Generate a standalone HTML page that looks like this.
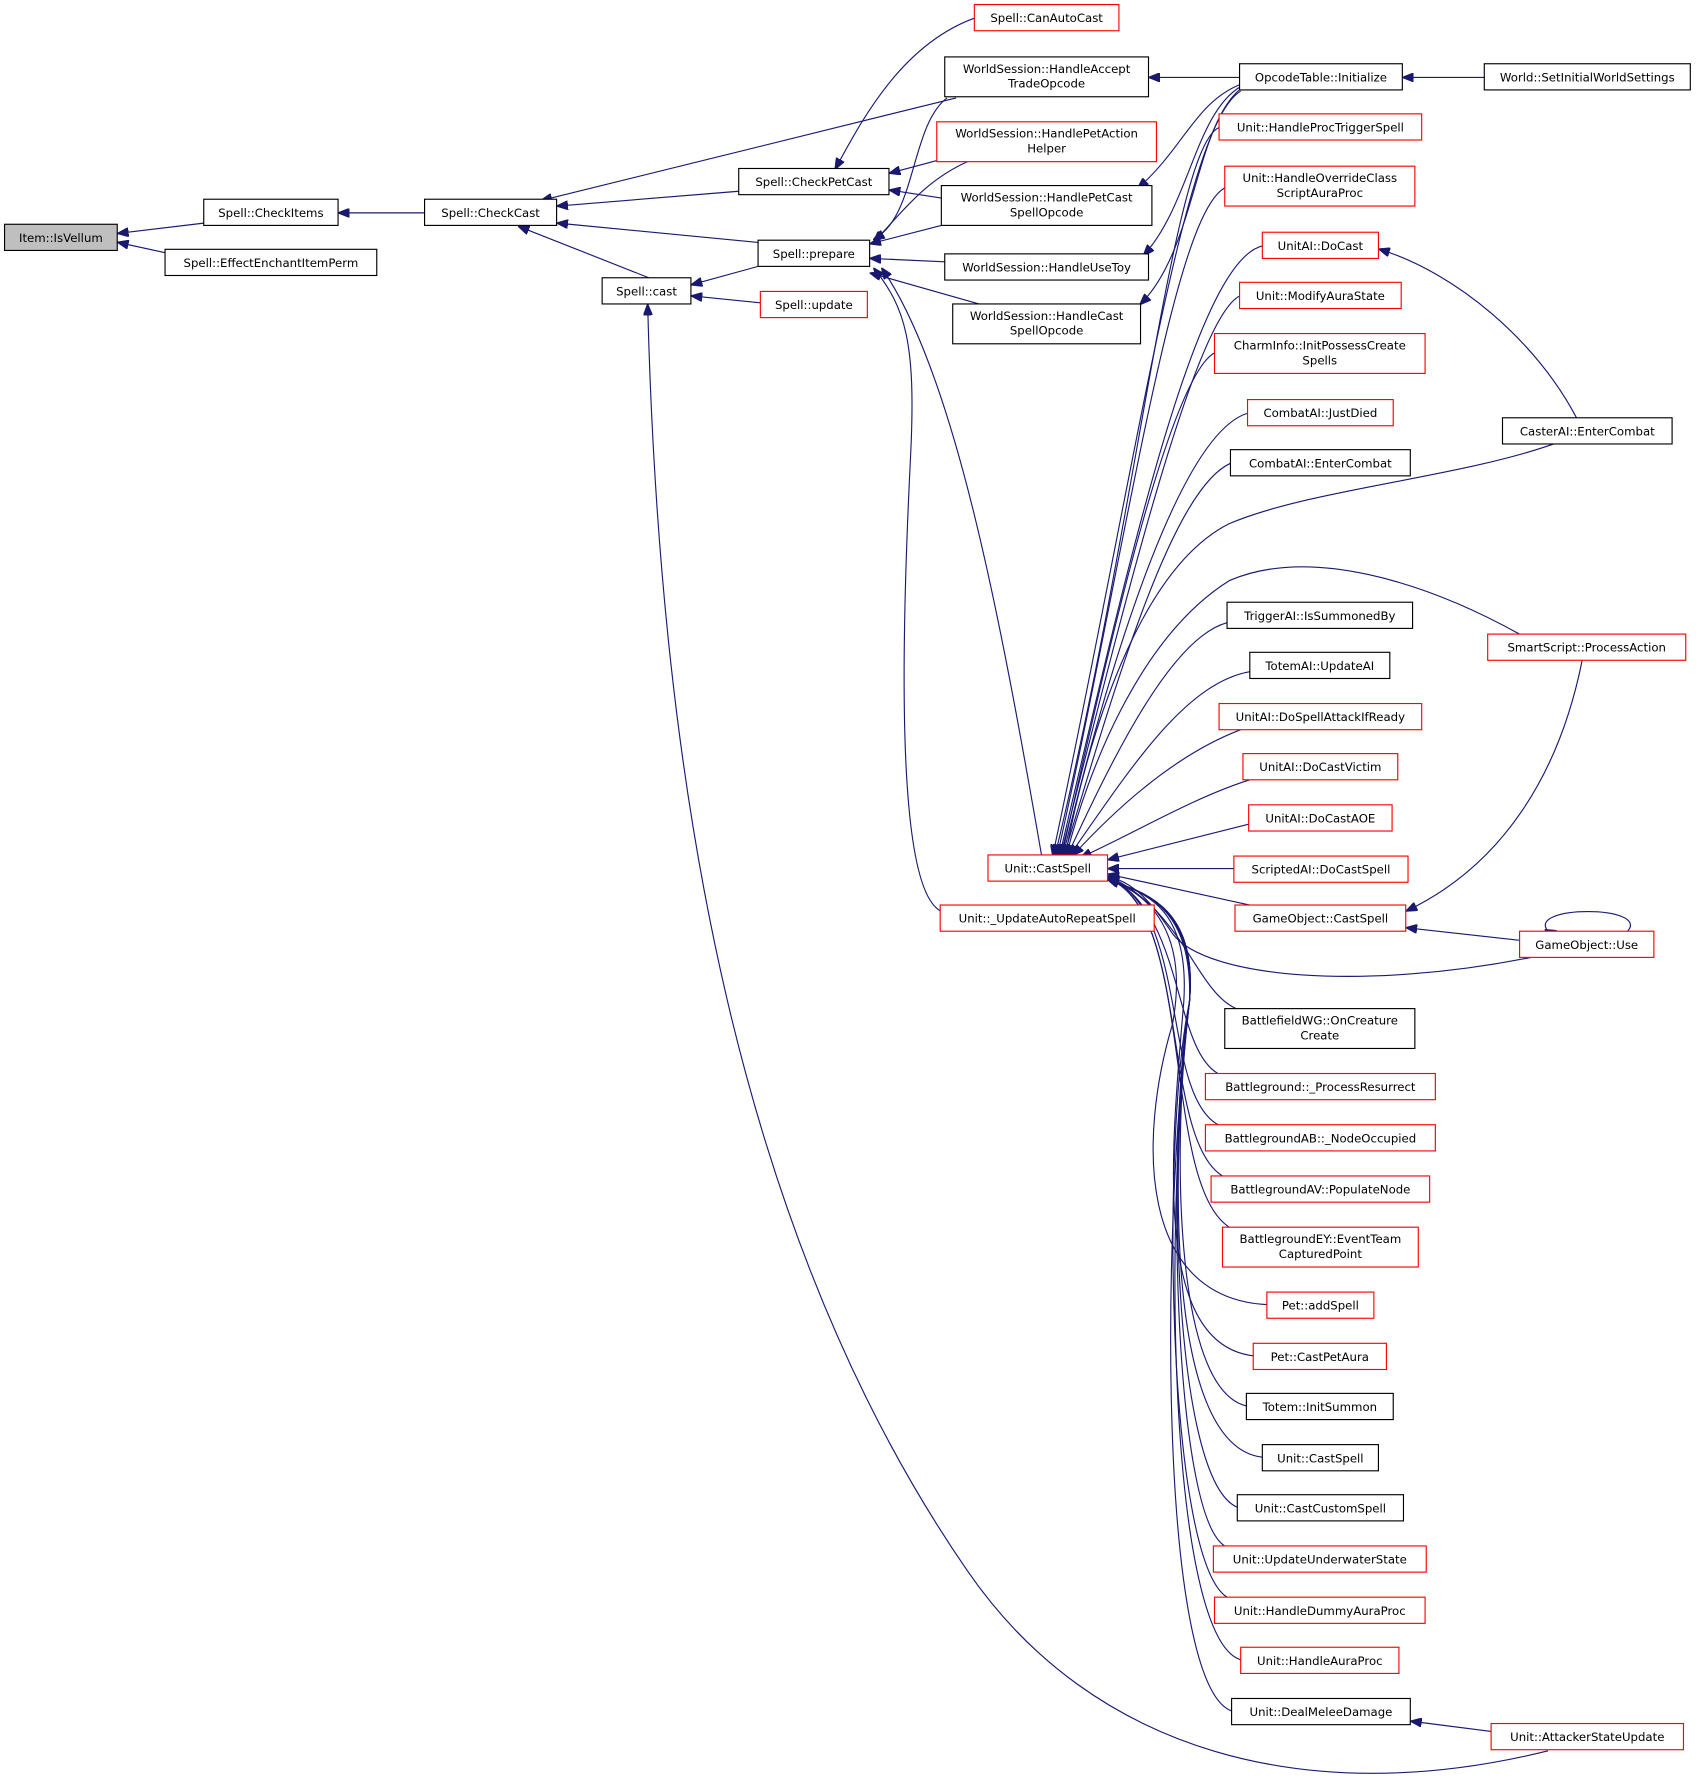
<!DOCTYPE html>
<html><head><meta charset="utf-8"><style>
html,body{margin:0;padding:0;background:#fff;}
svg{display:block;}
text{font-family:"DejaVu Sans","Liberation Sans",sans-serif;font-size:10.3px;fill:#000;text-anchor:middle;}
.b{fill:#fff;stroke:#000;stroke-width:1;}
.r{fill:#fff;stroke:#ff0000;stroke-width:1;}
.g{fill:#bfbfbf;stroke:#000;stroke-width:1;}
path{fill:none;stroke:#191970;stroke-width:1;}
</style></head><body>
<svg width="1696" height="1785" viewBox="0 0 1490 1568" preserveAspectRatio="none" xmlns="http://www.w3.org/2000/svg">
<defs><marker id="a" markerWidth="10" markerHeight="8" refX="9" refY="4" orient="auto" markerUnits="userSpaceOnUse"><polygon points="0,0 10,4 0,8" fill="#191970" stroke="#191970"/></marker></defs>
<g marker-end="url(#a)">
<path d="M179,196 L104,205"/>
<path d="M145,222 L104,213"/>
<path d="M373,187 L298,187"/>
<path d="M649,168 L490,181"/>
<path d="M666,213 L490,196"/>
<path d="M570,244 L456,199"/>
<path d="M840,86 L476,176"/>
<path d="M856,16 C790,40 755,110 734,148"/>
<path d="M823,141 L782,152"/>
<path d="M827,174 L782,167"/>
<path d="M666,234 L608,250"/>
<path d="M668,266 L608,260"/>
<path d="M1360,1538 C1150,1590 960,1540 850,1380 C650,1090 580,700 569,268"/>
<path d="M832,86 C800,110 805,190 768,210"/>
<path d="M850,142 C810,160 790,190 768,212"/>
<path d="M827,198 L765,214"/>
<path d="M830,230 L765,227"/>
<path d="M860,267 L765,240"/>
<path d="M915,751 C880,550 840,330 775,236"/>
<path d="M826,800 C790,780 790,600 800,400 C805,300 795,270 768,236"/>
<path d="M1089,68 L1010,68"/>
<path d="M1304,68 L1233,68"/>
<path d="M1090,74 C1050,90 1040,130 1000,165"/>
<path d="M1090,76 C1050,100 1045,180 1005,224"/>
<path d="M1090,78 C1050,110 1050,220 1002,267"/>
<path d="M1090,80 C1040,110 1000,400 925,751"/>
<path d="M1071,112 C1030,130 1000,450 927,751"/>
<path d="M1076,165 C1030,190 990,480 929,751"/>
<path d="M1109,216 C1050,230 990,500 931,751"/>
<path d="M1089,260 C1050,280 990,520 932,751"/>
<path d="M1067,310 C1030,330 980,540 933,751"/>
<path d="M1096,363 C1040,380 980,560 934,751"/>
<path d="M1081,407 C1030,430 980,600 935,751"/>
<path d="M1365,390 C1280,420 1150,430 1080,460 C1000,500 955,650 936,751"/>
<path d="M1335,557 C1250,510 1150,480 1080,510 C1000,560 955,680 937,751"/>
<path d="M1078,547 C1030,560 980,660 938,751"/>
<path d="M1098,590 C1040,600 990,680 940,751"/>
<path d="M1090,641 C1040,660 990,700 943,751"/>
<path d="M1098,685 C1050,700 1000,730 950,753"/>
<path d="M1097,724 L974,755"/>
<path d="M1084,763 L974,763"/>
<path d="M1098,795 L974,768"/>
<path d="M1345,841 C1200,870 1060,860 1030,820 C1010,790 995,775 974,770"/>
<path d="M1385,367 C1350,300 1280,240 1212,219"/>
<path d="M1390,580 C1370,680 1320,760 1236,800"/>
<path d="M1335,826 L1236,815"/>
<path d="M1360,818 C1340,795 1450,795 1430,818 M1360,818 L1358,817"/>
<path d="M1310,1521 L1240,1512"/>
<path d="M1086,886 C1050,870 1040,800 974,770"/>
<path d="M1070,943 C1030,920 1040,800 974,771"/>
<path d="M1070,988 C1020,960 1045,800 974,771"/>
<path d="M1074,1033 C1020,1000 1045,800 974,772"/>
<path d="M1080,1078 C1020,1040 1050,800 974,772"/>
<path d="M1113,1146 C1000,1140 1000,1000 1030,900 C1045,820 1010,785 974,773"/>
<path d="M1101,1191 C1010,1180 1030,1000 1040,880 C1045,800 1010,785 974,773"/>
<path d="M1095,1235 C1030,1220 1030,1000 1045,880 C1048,800 1010,785 974,773"/>
<path d="M1109,1280 C1020,1270 1030,1000 1045,880 C1050,800 1010,785 974,773"/>
<path d="M1087,1324 C1030,1300 1025,1000 1045,880 C1052,800 1010,785 974,773"/>
<path d="M1076,1358 C1030,1330 1025,1000 1045,880 C1052,800 1010,785 974,773"/>
<path d="M1078,1403 C1025,1370 1020,1000 1045,880 C1052,800 1010,785 974,773"/>
<path d="M1090,1458 C1030,1440 1020,1100 1045,880 C1052,800 1010,785 974,773"/>
<path d="M1082,1503 C1020,1480 1018,1100 1045,880 C1052,800 1010,785 974,773"/>
</g>
<rect class="g" x="4" y="197" width="99" height="23"/><text x="53.5" y="212.5">Item::IsVellum</text>
<rect class="b" x="179" y="175" width="118" height="23"/><text x="238" y="190.5">Spell::CheckItems</text>
<rect class="b" x="145" y="219" width="186" height="23"/><text x="238" y="234.5">Spell::EffectEnchantItemPerm</text>
<rect class="b" x="373" y="175" width="116" height="23"/><text x="431" y="190.5">Spell::CheckCast</text>
<rect class="b" x="649" y="148" width="132" height="23"/><text x="715" y="163.5">Spell::CheckPetCast</text>
<rect class="b" x="666" y="211" width="98" height="23"/><text x="715" y="226.5">Spell::prepare</text>
<rect class="b" x="529" y="244" width="78" height="23"/><text x="568" y="259.5">Spell::cast</text>
<rect class="r" x="668" y="256" width="94" height="23"/><text x="715" y="271.5">Spell::update</text>
<rect class="r" x="856" y="4" width="127" height="23"/><text x="919.5" y="19.5">Spell::CanAutoCast</text>
<rect class="b" x="830" y="50" width="179" height="35"/><text x="919.5" y="64">WorldSession::HandleAccept</text><text x="919.5" y="77">TradeOpcode</text>
<rect class="r" x="823" y="107" width="193" height="35"/><text x="919.5" y="121">WorldSession::HandlePetAction</text><text x="919.5" y="134">Helper</text>
<rect class="b" x="827" y="163" width="185" height="35"/><text x="919.5" y="177">WorldSession::HandlePetCast</text><text x="919.5" y="190">SpellOpcode</text>
<rect class="b" x="830" y="223" width="179" height="23"/><text x="919.5" y="238.5">WorldSession::HandleUseToy</text>
<rect class="b" x="837" y="267" width="165" height="35"/><text x="919.5" y="281">WorldSession::HandleCast</text><text x="919.5" y="294">SpellOpcode</text>
<rect class="r" x="868" y="751" width="105" height="23"/><text x="920.5" y="766.5">Unit::CastSpell</text>
<rect class="r" x="826" y="795" width="188" height="23"/><text x="920" y="810.5">Unit::_UpdateAutoRepeatSpell</text>
<rect class="b" x="1089" y="56" width="143" height="23"/><text x="1160.5" y="71.5">OpcodeTable::Initialize</text>
<rect class="b" x="1304" y="56" width="181" height="23"/><text x="1394.5" y="71.5">World::SetInitialWorldSettings</text>
<rect class="r" x="1071" y="100" width="178" height="23"/><text x="1160" y="115.5">Unit::HandleProcTriggerSpell</text>
<rect class="r" x="1076" y="146" width="167" height="35"/><text x="1159.5" y="160">Unit::HandleOverrideClass</text><text x="1159.5" y="173">ScriptAuraProc</text>
<rect class="r" x="1109" y="204" width="102" height="23"/><text x="1160" y="219.5">UnitAI::DoCast</text>
<rect class="r" x="1089" y="248" width="142" height="23"/><text x="1160" y="263.5">Unit::ModifyAuraState</text>
<rect class="r" x="1067" y="293" width="185" height="35"/><text x="1159.5" y="307">CharmInfo::InitPossessCreate</text><text x="1159.5" y="320">Spells</text>
<rect class="r" x="1096" y="351" width="128" height="23"/><text x="1160" y="366.5">CombatAI::JustDied</text>
<rect class="b" x="1081" y="395" width="158" height="23"/><text x="1160" y="410.5">CombatAI::EnterCombat</text>
<rect class="b" x="1078" y="529" width="163" height="23"/><text x="1159.5" y="544.5">TriggerAI::IsSummonedBy</text>
<rect class="b" x="1098" y="573" width="123" height="23"/><text x="1159.5" y="588.5">TotemAI::UpdateAI</text>
<rect class="r" x="1071" y="618" width="178" height="23"/><text x="1160" y="633.5">UnitAI::DoSpellAttackIfReady</text>
<rect class="r" x="1092" y="662" width="136" height="23"/><text x="1160" y="677.5">UnitAI::DoCastVictim</text>
<rect class="r" x="1097" y="707" width="126" height="23"/><text x="1160" y="722.5">UnitAI::DoCastAOE</text>
<rect class="r" x="1084" y="752" width="153" height="23"/><text x="1160.5" y="767.5">ScriptedAI::DoCastSpell</text>
<rect class="r" x="1085" y="795" width="150" height="23"/><text x="1160" y="810.5">GameObject::CastSpell</text>
<rect class="b" x="1076" y="886" width="167" height="35"/><text x="1159.5" y="900">BattlefieldWG::OnCreature</text><text x="1159.5" y="913">Create</text>
<rect class="r" x="1059" y="943" width="202" height="23"/><text x="1160" y="958.5">Battleground::_ProcessResurrect</text>
<rect class="r" x="1059" y="988" width="202" height="23"/><text x="1160" y="1003.5">BattlegroundAB::_NodeOccupied</text>
<rect class="r" x="1064" y="1033" width="192" height="23"/><text x="1160" y="1048.5">BattlegroundAV::PopulateNode</text>
<rect class="r" x="1074" y="1078" width="172" height="35"/><text x="1160" y="1092">BattlegroundEY::EventTeam</text><text x="1160" y="1105">CapturedPoint</text>
<rect class="r" x="1113" y="1135" width="94" height="23"/><text x="1160" y="1150.5">Pet::addSpell</text>
<rect class="r" x="1101" y="1180" width="117" height="23"/><text x="1159.5" y="1195.5">Pet::CastPetAura</text>
<rect class="b" x="1095" y="1224" width="129" height="23"/><text x="1159.5" y="1239.5">Totem::InitSummon</text>
<rect class="b" x="1109" y="1269" width="102" height="23"/><text x="1160" y="1284.5">Unit::CastSpell</text>
<rect class="b" x="1087" y="1313" width="146" height="23"/><text x="1160" y="1328.5">Unit::CastCustomSpell</text>
<rect class="r" x="1066" y="1358" width="187" height="23"/><text x="1159.5" y="1373.5">Unit::UpdateUnderwaterState</text>
<rect class="r" x="1067" y="1403" width="185" height="23"/><text x="1159.5" y="1418.5">Unit::HandleDummyAuraProc</text>
<rect class="r" x="1090" y="1447" width="139" height="23"/><text x="1159.5" y="1462.5">Unit::HandleAuraProc</text>
<rect class="b" x="1082" y="1492" width="157" height="23"/><text x="1160.5" y="1507.5">Unit::DealMeleeDamage</text>
<rect class="b" x="1320" y="367" width="149" height="23"/><text x="1394.5" y="382.5">CasterAI::EnterCombat</text>
<rect class="r" x="1307" y="557" width="174" height="23"/><text x="1394" y="572.5">SmartScript::ProcessAction</text>
<rect class="r" x="1335" y="818" width="118" height="23"/><text x="1394" y="833.5">GameObject::Use</text>
<rect class="r" x="1310" y="1514" width="169" height="23"/><text x="1394.5" y="1529.5">Unit::AttackerStateUpdate</text>
</svg>
</body></html>
